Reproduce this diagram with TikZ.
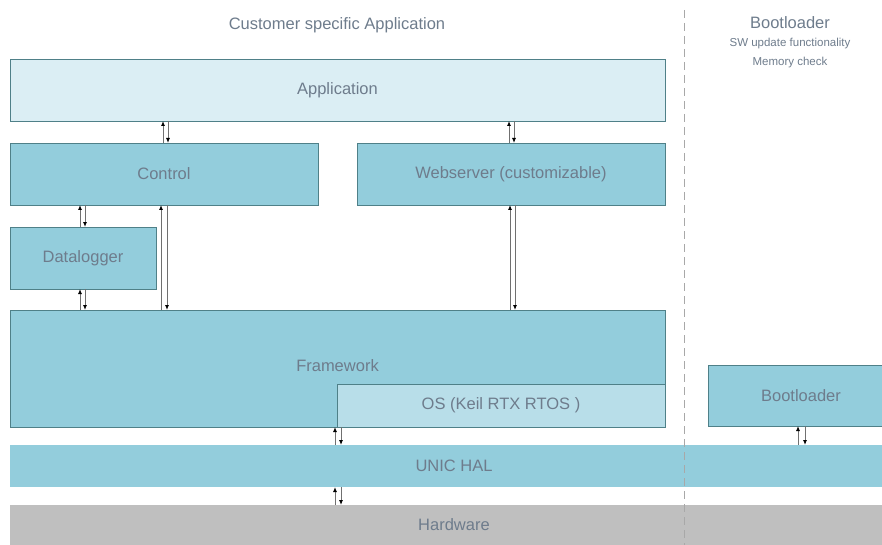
\documentclass[tikz,border=0pt]{standalone}
\usepackage{fontspec}
\setmainfont{Liberation Sans}
\usetikzlibrary{arrows.meta}
\definecolor{txt}{HTML}{6E7C8C}
\definecolor{bord}{HTML}{4F8088}
\definecolor{mid}{HTML}{93CDDC}
\definecolor{light}{HTML}{DBEEF4}
\definecolor{osc}{HTML}{B8DEE9}
\definecolor{hwc}{HTML}{BFBFBF}
\definecolor{dashc}{HTML}{A8A8A8}
\definecolor{arl}{HTML}{707070}
\begin{document}
\begin{tikzpicture}[x=1pt,y=-1pt,
  box/.style={draw=bord, fill=mid, line width=0.8pt, anchor=north west, inner sep=0pt, outer sep=0pt,
    text=txt, font=\fontsize{16.5}{19}\selectfont},
  bar/.style={box, draw=none},
  head/.style={text=txt, inner sep=0pt, font=\fontsize{16.5}{19}\selectfont},
  sub/.style={text=txt, inner sep=0pt, font=\fontsize{11.5}{14}\selectfont},
  arU/.style={draw=arl, line width=0.9pt, -{Latex[length=5pt,width=4pt,color=black]}},
  arD/.style={draw=arl, line width=0.9pt, -{Latex[length=5pt,width=4pt,color=black]}}
]
\useasboundingbox (0,0) rectangle (882,545);
% headers
\node[head] (h1) at (337,25) {Customer specific Application};
\node[head] (h2) at (790,23) {Bootloader};
\node[sub] (h3) at (790,44) {SW update functionality};
\node[sub] (h4) at (790,63) {Memory check};
% boxes
\node[box, fill=light, minimum width=655pt, minimum height=62pt] (app) at (10,59) {Application};
\node[box, minimum width=308pt, minimum height=62pt] (ctrl) at (10,143) {Control};
\node[box, minimum width=308pt, minimum height=62pt] (web) at (357,143) {Webserver (customizable)};
\node[box, minimum width=146pt, minimum height=62pt] (dlog) at (10,227) {Datalogger};
\node[box, minimum width=655pt, minimum height=117pt] (fw) at (10,310) {\raisebox{5pt}{Framework}};
\node[box, fill=osc, minimum width=328pt, minimum height=43pt] (os) at (337,384) {OS (Keil RTX RTOS )};
\node[bar, minimum width=872pt, minimum height=42pt] (hal) at (10,445) {\hspace*{16pt}UNIC HAL};
\node[bar, fill=hwc, minimum width=872pt, minimum height=40pt] (hw) at (10,505) {\hspace*{16pt}Hardware};
\node[bar, minimum width=174pt, minimum height=61pt] (boot) at (708,365) {\hspace*{12pt}Bootloader};
\draw[bord, line width=0.8pt] (boot.north east) -- (boot.north west) -- (boot.south west) -- (boot.south east);
% divider
\draw[draw=dashc, line width=0.8pt, dash pattern=on 8pt off 5pt] (684,10) -- (684,545);
% arrow x positions
\coordinate (a1) at (163,0); \coordinate (b1) at (168,0);
\coordinate (a2) at (509,0); \coordinate (b2) at (514,0);
\coordinate (a3) at (80,0);  \coordinate (b3) at (85,0);
\coordinate (a5) at (161,0); \coordinate (b5) at (167,0);
\coordinate (a6) at (510,0); \coordinate (b6) at (515,0);
\coordinate (a7) at (335,0); \coordinate (b7) at (341,0);
\coordinate (a9) at (798,0); \coordinate (b9) at (805,0);
% arrows
\draw[arU] (a1 |- ctrl.north) -- (a1 |- app.south);
\draw[arD] (b1 |- app.south) -- (b1 |- ctrl.north);
\draw[arU] (a2 |- web.north) -- (a2 |- app.south);
\draw[arD] (b2 |- app.south) -- (b2 |- web.north);
\draw[arU] (a3 |- dlog.north) -- (a3 |- ctrl.south);
\draw[arD] (b3 |- ctrl.south) -- (b3 |- dlog.north);
\draw[arU] (a3 |- fw.north) -- (a3 |- dlog.south);
\draw[arD] (b3 |- dlog.south) -- (b3 |- fw.north);
\draw[arU] (a5 |- fw.north) -- (a5 |- ctrl.south);
\draw[arD] (b5 |- ctrl.south) -- (b5 |- fw.north);
\draw[arU] (a6 |- fw.north) -- (a6 |- web.south);
\draw[arD] (b6 |- web.south) -- (b6 |- fw.north);
\draw[arU] (a7 |- hal.north) -- (a7 |- fw.south);
\draw[arD] (b7 |- fw.south) -- (b7 |- hal.north);
\draw[arU] (a7 |- hw.north) -- (a7 |- hal.south);
\draw[arD] (b7 |- hal.south) -- (b7 |- hw.north);
\draw[arU] (a9 |- hal.north) -- (a9 |- boot.south);
\draw[arD] (b9 |- boot.south) -- (b9 |- hal.north);
\end{tikzpicture}
\end{document}
